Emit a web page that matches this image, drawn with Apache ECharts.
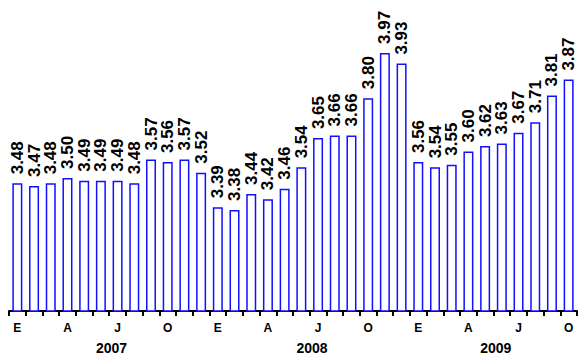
<!DOCTYPE html>
<html>
<head>
<meta charset="utf-8">
<script src="https://cdn.jsdelivr.net/npm/echarts@6/dist/echarts.min.js"></script>
<style>
  html, body { margin: 0; padding: 0; background: #fff; }
  #chart { width: 579px; height: 360px; }
</style>
</head>
<body>
<div id="chart"></div>
<script>
// Monthly values, Jan 2007 – Oct 2009
const monthLetters = ['E','F','M','A','M','J','J','A','S','O','N','D'];
const years = ['2007', '2008', '2009'];
const monthsPerYear = [12, 12, 10];
const values = [
  3.48, 3.47, 3.48, 3.50, 3.49, 3.49, 3.49, 3.48, 3.57, 3.56, 3.57, 3.52,
  3.39, 3.38, 3.44, 3.42, 3.46, 3.54, 3.65, 3.66, 3.66, 3.80, 3.97, 3.93,
  3.56, 3.54, 3.55, 3.60, 3.62, 3.63, 3.67, 3.71, 3.81, 3.87
];
// Month letters shown on the axis: January, April, July, October
const shownMonths = [0, 3, 6, 9];
// Category index (within each year) under which the year name sits
const yearLabelMonth = [6, 6, 5];

const categories = [];
const yearOfCategory = [];
const monthOfCategory = [];
const yearLabelIdx = [];
years.forEach((y, yi) => {
  for (let m = 0; m < monthsPerYear[yi]; m++) {
    if (m === yearLabelMonth[yi]) yearLabelIdx.push(categories.length);
    categories.push(monthLetters[m]);
    yearOfCategory.push(y);
    monthOfCategory.push(m);
  }
});

const FONT = '"Liberation Sans", Arial, Helvetica, sans-serif';

const chart = echarts.init(document.getElementById('chart'), null, { renderer: 'svg' });
chart.setOption({
  animation: false,
  backgroundColor: '#ffffff',
  grid: { left: 9, right: 2, top: 45, bottom: 49, containLabel: false },
  xAxis: [
    {
      type: 'category',
      data: categories,
      position: 'bottom',
      axisLine: { show: true, lineStyle: { color: '#000', width: 2 } },
      axisTick: { show: true, interval: 0, length: 5, lineStyle: { color: '#000', width: 2 } },
      axisLabel: {
        interval: (i) => shownMonths.includes(monthOfCategory[i]),
        color: '#000',
        fontFamily: FONT,
        fontWeight: 'bold',
        fontSize: 12,
        margin: 11
      },
      splitLine: { show: false }
    },
    {
      type: 'category',
      data: yearOfCategory,
      position: 'bottom',
      offset: 0,
      axisLine: { show: false },
      axisTick: { show: false },
      axisLabel: {
        interval: (i) => yearLabelIdx.includes(i),
        color: '#000',
        fontFamily: FONT,
        fontWeight: 'bold',
        fontSize: 14,
        margin: 30,
        padding: [0, 12, 0, 0]
      },
      splitLine: { show: false }
    }
  ],
  yAxis: {
    type: 'value',
    min: 3,
    max: 4,
    show: false
  },
  series: [
    {
      type: 'bar',
      xAxisIndex: 0,
      data: values,
      barWidth: 10,
      itemStyle: { color: '#ffffff', borderColor: '#1010ff', borderWidth: 1.5 },
      label: {
        show: true,
        position: 'top',
        distance: 9,
        rotate: 90,
        align: 'left',
        verticalAlign: 'middle',
        formatter: (p) => p.value.toFixed(2),
        color: '#000',
        fontFamily: FONT,
        fontWeight: 'bold',
        fontSize: 17
      }
    }
  ]
});
</script>
</body>
</html>
